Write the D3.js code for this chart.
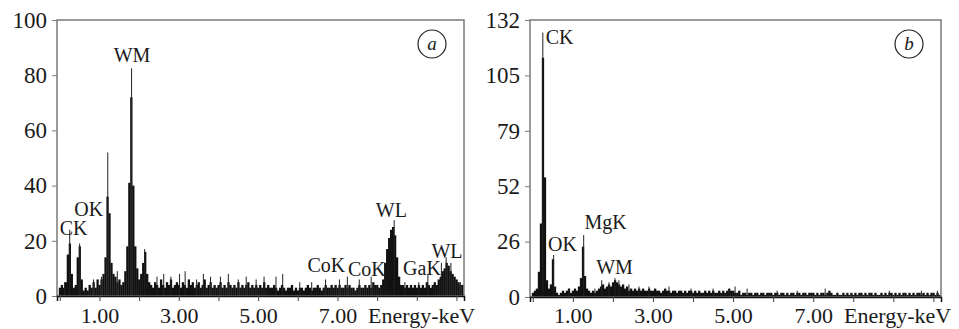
<!DOCTYPE html>
<html>
<head>
<meta charset="utf-8">
<script src="https://cdn.jsdelivr.net/npm/d3@7"></script>
<style>
  body { margin: 0; background: #fff; }
  svg text { font-family: "Liberation Serif", "Times New Roman", serif; fill: #1a1a1a; }
</style>
</head>
<body>
<div id="chart"></div>
<script>
// spectrum bins: 0.05 keV step starting at 0 keV
const binStep = 0.05;

const countsA = [
  3,4,3,5,15,19,8,3,4,14,18,6,2,3,2,4,3,5,3,6,
  4,6,8,14,36,30,12,8,7,5,6,4,5,9,18,41,72,40,18,10,
  6,8,12,16,8,5,4,3,5,4,3,6,4,3,5,4,6,3,4,5,
  4,3,5,4,3,6,4,5,3,4,5,3,4,6,3,4,5,3,4,3,
  4,5,3,4,3,5,4,3,4,3,5,3,4,3,4,5,3,4,3,4,
  3,4,3,5,3,4,3,3,4,3,2,3,4,3,2,3,3,4,2,3,
  2,3,3,2,3,4,3,2,3,3,4,3,2,3,4,3,3,4,3,4,
  3,4,3,3,4,3,4,3,3,2,3,4,3,3,4,3,4,3,5,4,
  4,3,4,6,12,17,21,24,25,22,14,7,4,4,3,4,3,4,3,4,
  3,4,3,4,3,5,4,3,4,5,4,6,7,9,10,12,11,9,8,7,
  6,5,4,4
];

const countsB = [
  2,3,4,12,35,114,57,8,4,6,18,5,2,1,2,3,2,3,4,2,
  3,4,3,5,9,24,10,4,3,2,3,2,3,4,5,6,4,5,6,5,
  7,8,7,6,5,6,4,5,3,4,3,4,3,4,3,4,3,3,4,3,
  3,4,3,3,2,3,4,3,3,2,3,3,2,3,3,2,3,2,3,3,
  2,3,2,3,2,2,3,2,3,2,3,2,2,3,2,3,2,3,4,3,
  3,2,2,3,1,2,2,1,2,2,1,2,2,1,2,2,1,2,2,2,
  1,2,2,1,2,2,1,2,1,2,2,1,2,2,1,2,2,1,2,2,
  2,1,2,1,2,2,1,2,3,2,1,1,2,1,1,2,1,2,1,2,
  1,2,1,2,2,1,2,1,2,2,1,2,1,1,2,1,2,1,2,2,
  1,2,1,2,1,2,2,1,2,1,2,1,2,2,1,2,1,2,1,2,
  2,1,2,1
];

// thin lines: [energy keV, counts]
const spikesA = [
  [0.25,24],[0.5,19],[1.21,52],[1.81,82.5],[2.14,17],[8.43,27.5],
  [0.12,5],[0.85,6],[1.05,7],[1.45,9],[2.45,7],[2.62,8],[2.8,7],[3.02,8],[3.16,9],
  [3.45,6],[3.62,8],[3.8,7],[4.05,7],[4.25,8],[4.5,6],[4.7,7],[4.95,6],[5.15,7],
  [5.45,7],[5.62,8],[6.05,5],[6.35,5],[6.7,6],[7.05,6],[7.25,7],[7.55,6],
  [7.85,7],[8.7,5],[9.05,5],[9.28,8],[9.62,12],[9.74,14],[9.86,12],[10.1,5]
];
const spikesB = [
  [0.25,126],[0.52,20],[1.27,29.5],
  [0.9,4],[1.55,4],[1.72,8],[1.9,7],[2.05,9],[2.15,8],[2.4,6],[2.65,5],[2.9,5],
  [3.4,5],[3.95,4],[4.5,4],[5.05,5],[5.35,4],[6.1,3],[6.6,3],[7.3,4],
  [8.9,3],[9.7,3],[10.1,3]
];

// element labels: [text, energy keV, counts] (text centre, baseline)
const labelsA = [
  ["CK",0.35,22.1],["OK",0.73,29],["WM",1.82,84.8],["WL",8.36,28.6],
  ["CoK",6.72,8.7],["CoK",7.74,7.2],["GaK",9.13,7.6],["WL",9.76,13.8]
];
const labelsB = [
  ["CK",0.67,120.6],["OK",0.74,21.9],["MgK",1.82,32.4],["WM",2.04,11]
];

const xTicks = [0,1,2,3,4,5,6,7,8,9,10];
const xTickLabels = {1:"1.00",3:"3.00",5:"5.00",7:"7.00"};
const yTicksA = [0,20,40,60,80,100];
const yTickLabelsA = ["0","20","40","60","80","100"];
const yTicksB = [0,26.4,52.8,79.2,105.6,132];
const yTickLabelsB = ["0","26","52","79","105","132"];

const svg = d3.select('#chart').append('svg')
  .attr('width', 959)
  .attr('height', 329);

function drawPanel(p) {
  const x = d3.scaleLinear().domain([-0.07, 10.19]).range([p.left, p.right]);
  const y = d3.scaleLinear().domain([0, p.yMax]).range([p.bottom, p.top]);
  const g = svg.append('g');

  // spectrum bins
  g.selectAll('.bin')
    .data(p.counts)
    .enter().append('rect')
    .attr('class', 'bin')
    .attr('x', (d, i) => x(i * binStep - binStep / 2))
    .attr('y', d => y(d))
    .attr('width', x(binStep) - x(0) + 0.3)
    .attr('height', d => y(0) - y(d))
    .attr('fill', '#111');

  g.selectAll('.spike')
    .data(p.spikes)
    .enter().append('line')
    .attr('x1', d => x(d[0])).attr('x2', d => x(d[0]))
    .attr('y1', y(0)).attr('y2', d => y(d[1]))
    .attr('stroke', '#222')
    .attr('stroke-width', 1);

  // frame
  g.append('rect')
    .attr('x', p.left).attr('y', p.top)
    .attr('width', p.right - p.left).attr('height', p.bottom - p.top)
    .attr('fill', 'none')
    .attr('stroke', '#7a7a7a')
    .attr('stroke-width', 1.5);

  const yAxis = g.append('g')
    .attr('transform', `translate(${p.left},0)`)
    .call(d3.axisLeft(y).tickValues(p.yTicks)
      .tickFormat((d, i) => p.yTickLabels[i]).tickSize(5).tickPadding(5));
  yAxis.select('.domain').remove();
  yAxis.selectAll('line').attr('stroke', '#7a7a7a');
  yAxis.selectAll('text').attr('font-size', 23).attr('font-family', '"Liberation Serif", serif').attr('fill', '#1a1a1a');

  const xAxis = g.append('g')
    .attr('transform', `translate(0,${p.bottom})`)
    .call(d3.axisBottom(x).tickValues(xTicks)
      .tickFormat(d => xTickLabels[d] || '').tickSize(5));
  xAxis.select('.domain').attr('stroke', '#111').attr('stroke-width', 1.5);
  xAxis.selectAll('line').attr('stroke', '#444');
  xAxis.selectAll('text')
    .attr('y', 323 - p.bottom).attr('dy', null)
    .attr('font-size', 22).attr('font-family', '"Liberation Serif", serif').attr('fill', '#1a1a1a');

  g.append('text')
    .attr('x', x(7.77)).attr('y', 323)
    .attr('font-size', 22)
    .text('Energy-keV');

  g.selectAll('.peak')
    .data(p.labels)
    .enter().append('text')
    .attr('x', d => x(d[1]))
    .attr('y', d => y(d[2]))
    .attr('text-anchor', 'middle')
    .attr('font-size', 20)
    .text(d => d[0]);

  // panel marker
  g.append('circle')
    .attr('cx', p.right - 32).attr('cy', p.top + 24).attr('r', 14)
    .attr('fill', 'none').attr('stroke', '#222').attr('stroke-width', 1.2);
  g.append('text')
    .attr('x', p.right - 32).attr('y', p.top + 30)
    .attr('text-anchor', 'middle')
    .attr('font-size', 19).attr('font-style', 'italic')
    .text(p.tag);
}

drawPanel({ left: 57, right: 464, top: 20, bottom: 296, yMax: 100,
  counts: countsA, spikes: spikesA, labels: labelsA,
  yTicks: yTicksA, yTickLabels: yTickLabelsA, tag: 'a' });
drawPanel({ left: 530, right: 941, top: 20, bottom: 297, yMax: 132,
  counts: countsB, spikes: spikesB, labels: labelsB,
  yTicks: yTicksB, yTickLabels: yTickLabelsB, tag: 'b' });
</script>
</body>
</html>
